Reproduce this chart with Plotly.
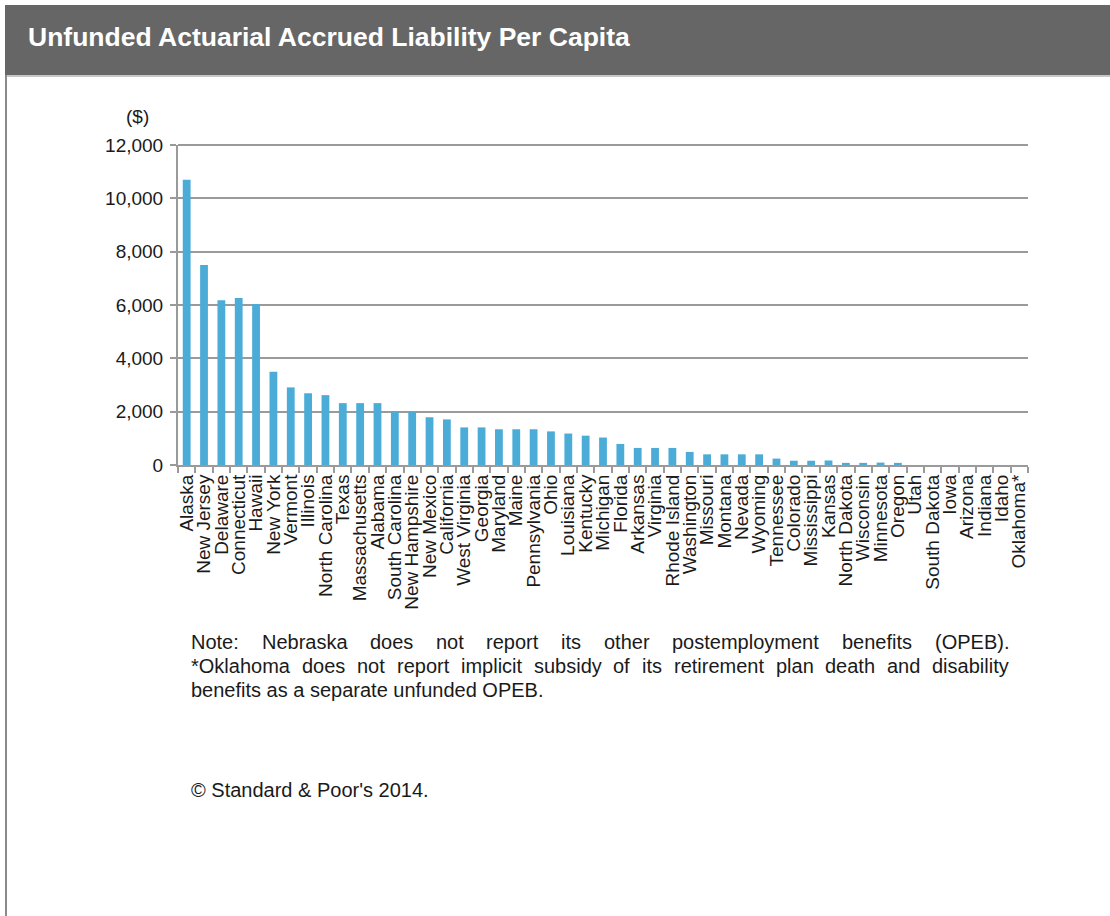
import plotly.graph_objects as go

# ---------------- data ----------------
states = ["Alaska", "New Jersey", "Delaware", "Connecticut", "Hawaii", "New York",
          "Vermont", "Illinois", "North Carolina", "Texas", "Massachusetts", "Alabama",
          "South Carolina", "New Hampshire", "New Mexico", "California", "West Virginia",
          "Georgia", "Maryland", "Maine", "Pennsylvania", "Ohio", "Louisiana", "Kentucky",
          "Michigan", "Florida", "Arkansas", "Virginia", "Rhode Island", "Washington",
          "Missouri", "Montana", "Nevada", "Wyoming", "Tennessee", "Colorado",
          "Mississippi", "Kansas", "North Dakota", "Wisconsin", "Minnesota", "Oregon",
          "Utah", "South Dakota", "Iowa", "Arizona", "Indiana", "Idaho", "Oklahoma*"]
liability_per_capita = [10700, 7500, 6180, 6260, 6040, 3500,
                        2910, 2690, 2620, 2320, 2320, 2320,
                        2010, 1990, 1790, 1710, 1410,
                        1410, 1340, 1340, 1340, 1260, 1180, 1100,
                        1030, 790, 640, 640, 640, 490,
                        400, 400, 400, 400, 240, 160,
                        160, 170, 80, 80, 90, 80,
                        0, 0, 0, 0, 0, 0, 0]
y_ticks = [0, 2000, 4000, 6000, 8000, 10000, 12000]

title_text = "Unfunded Actuarial Accrued Liability Per Capita"
unit_label = "($)"
note_line1 = "Note: Nebraska does not report its other postemployment benefits (OPEB)."
note_line2 = "*Oklahoma does not report implicit subsidy of its retirement plan death and disability"
note_line3 = "benefits as a separate unfunded OPEB."
copyright_text = "© Standard & Poor's 2014."

# ---------------- geometry helpers ----------------
W, H = 1110, 916
L, R, T, B = 178, 1028, 145, 465
FONT = "Liberation Sans, Arial, sans-serif"


def px_x(px):
    return (px - L) / (R - L)


def px_y(py):
    return (B - py) / (B - T)


# Arial / Liberation Sans advance widths (per 1000 em)
AW = {' ': 278, 'a': 556, 'b': 556, 'c': 500, 'd': 556, 'e': 556, 'f': 278, 'g': 556,
      'h': 556, 'i': 222, 'j': 222, 'k': 500, 'l': 222, 'm': 833, 'n': 556, 'o': 556,
      'p': 556, 'q': 556, 'r': 333, 's': 500, 't': 278, 'u': 556, 'v': 500, 'w': 722,
      'x': 500, 'y': 500, 'z': 500, 'A': 667, 'B': 667, 'C': 722, 'D': 722, 'E': 667,
      'F': 611, 'G': 778, 'H': 722, 'I': 278, 'J': 500, 'K': 667, 'L': 556, 'M': 833,
      'N': 722, 'O': 778, 'P': 667, 'Q': 778, 'R': 722, 'S': 667, 'T': 611, 'U': 722,
      'V': 667, 'W': 944, 'X': 667, 'Y': 667, 'Z': 611, '.': 278, ',': 278, ':': 278,
      '(': 333, ')': 333, '*': 389}


def text_w(s, size):
    return sum(AW.get(c, 556) for c in s) * size / 1000.0


# ---------------- figure ----------------
fig = go.Figure(go.Bar(
    x=states, y=liability_per_capita,
    marker=dict(color="#4BACD8", line=dict(width=0)),
    width=0.45, hoverinfo="x+y",
))

fig.update_layout(
    width=W, height=H, autosize=False,
    margin=dict(l=L, r=W - R, t=T, b=H - B, pad=0),
    paper_bgcolor="white", plot_bgcolor="white",
    showlegend=False, bargap=0.55,
    font=dict(family=FONT, color="#1a1a1a", size=19),
)
fig.update_xaxes(
    type="category", tickangle=-90, tickson="boundaries",
    tickmode="linear", tick0=0, dtick=1,
    ticks="outside", ticklen=6, tickwidth=2, tickcolor="#9a9a9a",
    showline=True, linecolor="#9a9a9a", linewidth=2,
    showgrid=False, tickfont=dict(size=19, color="#1a1a1a", family=FONT),
)
fig.update_yaxes(
    range=[0, 12000], tickvals=y_ticks, tickformat=",",
    showgrid=True, gridcolor="#9a9a9a", gridwidth=2,
    showline=True, linecolor="#9a9a9a", linewidth=2,
    ticks="outside", ticklen=6, tickwidth=2, tickcolor="#9a9a9a",
    zeroline=False, ticklabelstandoff=3,
    tickfont=dict(size=19, color="#1a1a1a", family=FONT),
)

shapes = [
    # header bar
    dict(type="rect", xref="paper", yref="paper",
         x0=px_x(5), x1=px_x(1112), y0=px_y(75), y1=px_y(5),
         fillcolor="#666666", line=dict(width=0), layer="below"),
    # light line under header
    dict(type="line", xref="paper", yref="paper",
         x0=px_x(5), x1=px_x(1112), y0=px_y(76), y1=px_y(76),
         line=dict(color="#b5b5b5", width=1.5)),
    # left border
    dict(type="line", xref="paper", yref="paper",
         x0=px_x(6), x1=px_x(6), y0=px_y(75), y1=px_y(918),
         line=dict(color="#8a8a8a", width=2)),
    # top gridline (12,000)
    dict(type="line", xref="paper", yref="paper",
         x0=0, x1=1, y0=1, y1=1, line=dict(color="#9a9a9a", width=2)),
]

annotations = [
    dict(text=title_text, xref="paper", yref="paper", x=px_x(27), y=px_y(37),
         xanchor="left", yanchor="middle", showarrow=False, borderpad=0,
         font=dict(family=FONT, size=26.5, color="white", weight="bold")),
    dict(text=unit_label, xref="paper", yref="paper", x=px_x(137), y=px_y(116),
         xanchor="center", yanchor="middle", showarrow=False, borderpad=0,
         font=dict(family=FONT, size=19, color="#1a1a1a")),
]

NOTE_SIZE = 20
NOTE_X0, NOTE_X1 = 190, 1008


def justified(line, ypx):
    words = line.split()
    widths = [text_w(w, NOTE_SIZE) for w in words]
    gap = (NOTE_X1 - NOTE_X0 - sum(widths)) / (len(words) - 1)
    x = NOTE_X0
    out = []
    for w, wd in zip(words, widths):
        out.append(dict(text=w, xref="paper", yref="paper", x=px_x(x), y=px_y(ypx),
                        xanchor="left", yanchor="middle", showarrow=False, borderpad=0,
                        font=dict(family=FONT, size=NOTE_SIZE, color="#1a1a1a")))
        x += wd + gap
    return out


annotations += justified(note_line1, 642)
annotations += justified(note_line2, 666)
annotations.append(dict(text=note_line3, xref="paper", yref="paper", x=px_x(NOTE_X0), y=px_y(690),
                        xanchor="left", yanchor="middle", showarrow=False, borderpad=0,
                        font=dict(family=FONT, size=NOTE_SIZE, color="#1a1a1a")))
annotations.append(dict(text=copyright_text, xref="paper", yref="paper", x=px_x(NOTE_X0), y=px_y(790),
                        xanchor="left", yanchor="middle", showarrow=False, borderpad=0,
                        font=dict(family=FONT, size=NOTE_SIZE, color="#1a1a1a")))

fig.update_layout(shapes=shapes, annotations=annotations)

fig.write_html("out.html")
